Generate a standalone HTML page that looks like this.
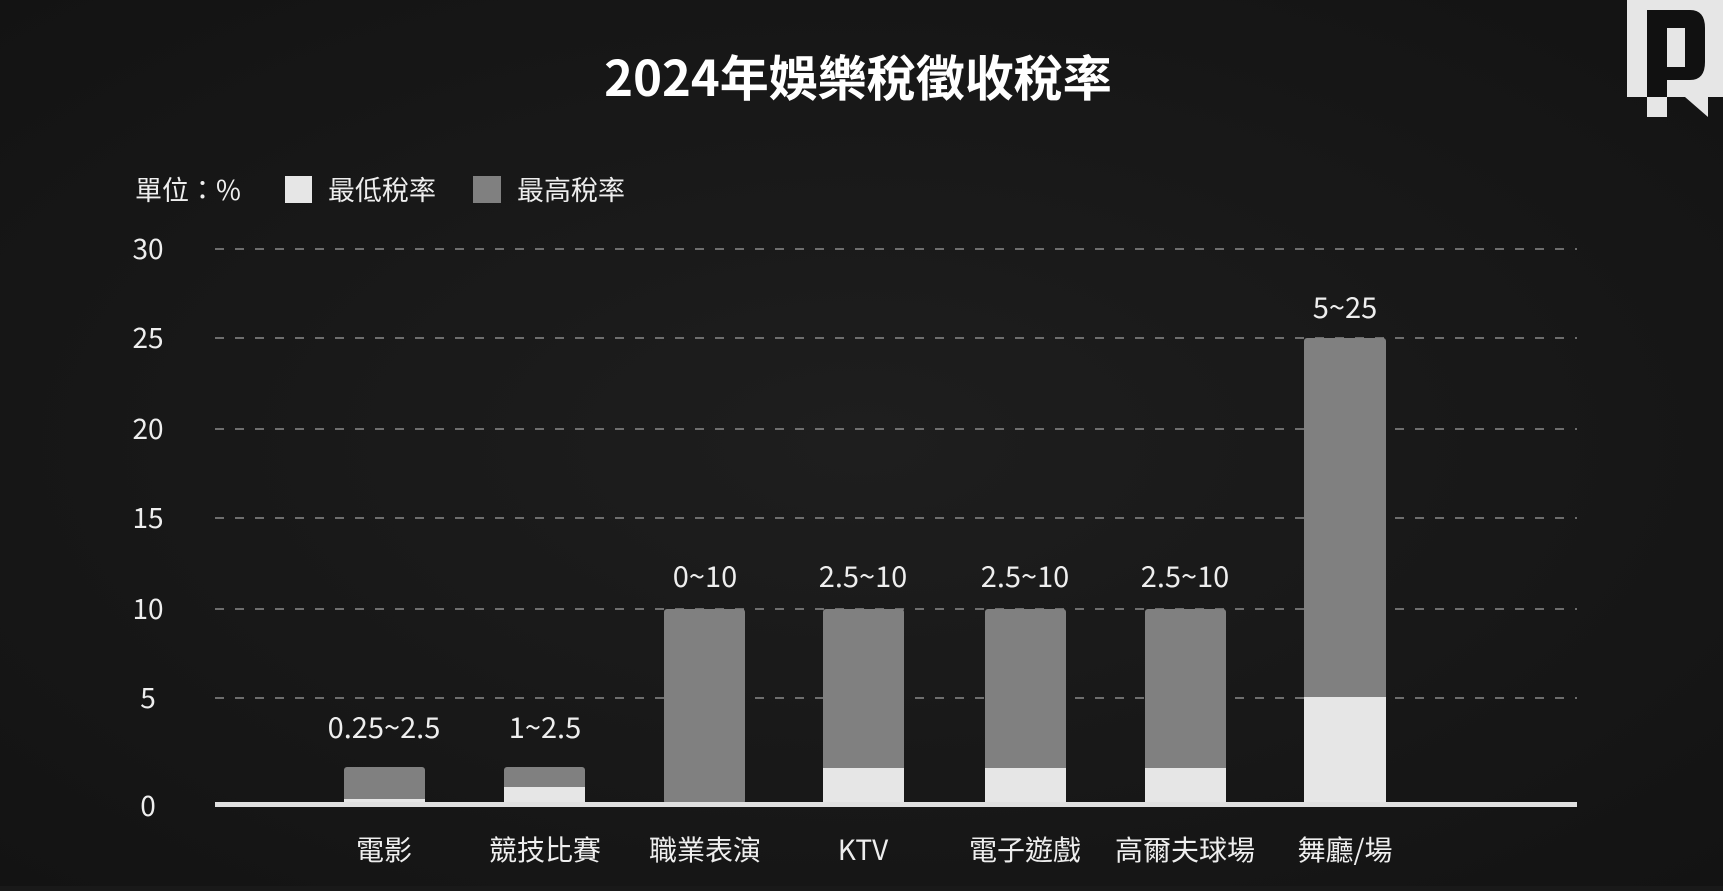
<!DOCTYPE html>
<html><head><meta charset="utf-8"><style>
html,body{margin:0;padding:0;background:#191919;}
body{width:1723px;height:886px;overflow:hidden;}
</style></head><body>
<svg width="1723" height="886" viewBox="0 0 1723 886" xmlns="http://www.w3.org/2000/svg" font-family="'Liberation Sans','Noto Sans CJK TC',sans-serif">
<defs><radialGradient id="bg" cx="0.5" cy="0.5" r="0.7"><stop offset="0" stop-color="#1e1e1e"/><stop offset="1" stop-color="#131313"/></radialGradient></defs>
<rect width="1723" height="886" fill="url(#bg)"/>
<text x="858" y="96" font-size="49" font-weight="bold" fill="#fff" text-anchor="middle" font-family="'Noto Sans CJK TC',sans-serif">2024年娛樂稅徵收稅率</text>
<!-- logo -->
<rect x="1627" y="0" width="96" height="97" fill="#e6e6e6"/>
<path d="M1647 10 H1690 Q1705 10 1705 28 V62 Q1705 80 1690 80 H1667 V97 H1647 Z" fill="#111"/>
<rect x="1667" y="28" width="18" height="39" fill="#e6e6e6"/>
<rect x="1647" y="97" width="20" height="20" fill="#e6e6e6"/>
<polygon points="1685,97 1708,97 1708,117" fill="#e6e6e6"/>
<!-- legend -->
<g font-family="'Noto Sans CJK TC',sans-serif" font-size="27" fill="#eee">
<text x="135" y="200">單位：%</text>
<rect x="285" y="176" width="27" height="27" fill="#e6e6e6"/>
<text x="328" y="200">最低稅率</text>
<rect x="473" y="176" width="28" height="27" fill="#808080"/>
<text x="517" y="200">最高稅率</text>
</g>
<!-- grid -->
<g stroke="#8a8a8a" stroke-width="1.5" stroke-dasharray="9,11">
<line x1="215" y1="249" x2="1577" y2="249"/>
<line x1="215" y1="338" x2="1577" y2="338"/>
<line x1="215" y1="429" x2="1577" y2="429"/>
<line x1="215" y1="518" x2="1577" y2="518"/>
<line x1="215" y1="609" x2="1577" y2="609"/>
<line x1="215" y1="698" x2="1577" y2="698"/>
</g>
<g font-family="'Noto Sans CJK TC',sans-serif" font-size="28" fill="#eee" text-anchor="middle">
<text x="148" y="259">30</text>
<text x="148" y="348">25</text>
<text x="148" y="439">20</text>
<text x="148" y="528">15</text>
<text x="148" y="619">10</text>
<text x="148" y="708">5</text>
<text x="148" y="816">0</text>
</g>
<!-- bars -->
<g>
<rect x="344" y="767" width="81" height="37" rx="3" fill="#808080"/><rect x="344" y="799" width="81" height="5" fill="#e6e6e6"/>
<rect x="504" y="767" width="81" height="37" rx="3" fill="#808080"/><rect x="504" y="787" width="81" height="17" fill="#e6e6e6"/>
<rect x="664" y="609" width="81" height="195" rx="3" fill="#808080"/>
<rect x="823" y="609" width="81" height="195" rx="3" fill="#808080"/><rect x="823" y="768" width="81" height="36" fill="#e6e6e6"/>
<rect x="985" y="609" width="81" height="195" rx="3" fill="#808080"/><rect x="985" y="768" width="81" height="36" fill="#e6e6e6"/>
<rect x="1145" y="609" width="81" height="195" rx="3" fill="#808080"/><rect x="1145" y="768" width="81" height="36" fill="#e6e6e6"/>
<rect x="1304" y="338" width="82" height="466" rx="3" fill="#808080"/><rect x="1304" y="697" width="82" height="107" fill="#e6e6e6"/>
</g>
<rect x="215" y="802" width="1362" height="5" fill="#e0e0e0"/>
<g font-family="'Noto Sans CJK TC',sans-serif" font-size="29" fill="#eee" text-anchor="middle">
<text x="384" y="738">0.25~2.5</text>
<text x="545" y="738">1~2.5</text>
<text x="705" y="587">0~10</text>
<text x="863" y="587">2.5~10</text>
<text x="1025" y="587">2.5~10</text>
<text x="1185" y="587">2.5~10</text>
<text x="1345" y="318">5~25</text>
</g>
<g font-family="'Noto Sans CJK TC',sans-serif" font-size="28" fill="#eee" text-anchor="middle">
<text x="384" y="860">電影</text>
<text x="545" y="860">競技比賽</text>
<text x="705" y="860">職業表演</text>
<text x="863" y="860">KTV</text>
<text x="1025" y="860">電子遊戲</text>
<text x="1185" y="860">高爾夫球場</text>
<text x="1345" y="860">舞廳/場</text>
</g>
</svg>
</body></html>
